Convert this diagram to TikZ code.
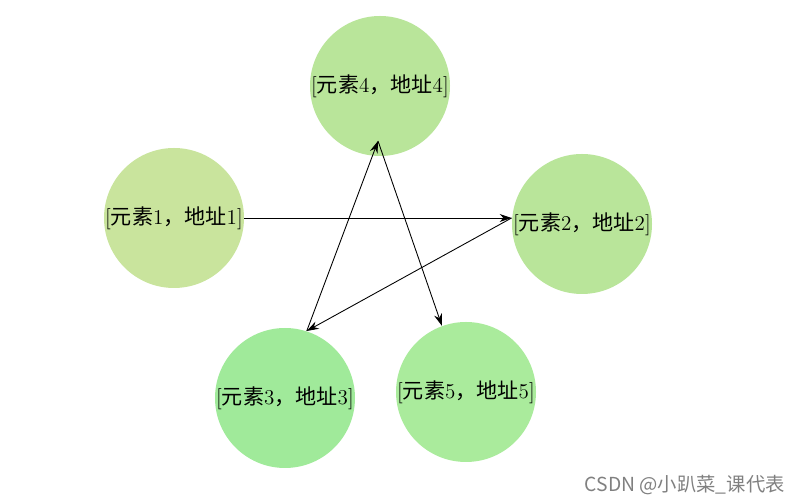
\documentclass[tikz,border=0pt]{standalone}
\usepackage{fontspec}
\usetikzlibrary{arrows.meta}
\newfontfamily\cjk{Noto Sans CJK SC}
\definecolor{ca}{HTML}{C9E49D}
\definecolor{cb}{HTML}{B9E59A}
\definecolor{cc}{HTML}{A0EA9A}
\definecolor{cd}{HTML}{AAEB9C}
\newcommand{\cell}[1]{[{\cjk 元素}#1{\cjk ，地址}#1]}
\tikzset{
elem/.style={
  circle,inner sep=0pt,minimum size=2.8cm,
  font=\fontsize{12}{14}\selectfont}}
\begin{document}
\begin{tikzpicture}[>={Stealth[length=2.4mm,width=1.6mm]},line width=0.5pt]
\useasboundingbox (0,0) rectangle (16.02,10.08);
\node[elem,fill=ca] (n1) at (3.48,5.72) {\cell{1}};
\node[elem,fill=cb] (n4) at (7.60,8.36) {\cell{4}};
\node[elem,fill=cb] (n2) at (11.64,5.60) {\cell{2}};
\node[elem,fill=cc] (n3) at (5.70,2.12) {\cell{3}};
\node[elem,fill=cd] (n5) at (9.32,2.24) {\cell{5}};
\coordinate (w2) at (n1.east -| n2.west);
\coordinate (apex) at (7.56,7.26);
\draw[->] (n1.east) -- (w2);
\draw[->] (w2) -- (n3.72);
\draw[->] (n3.72) -- (apex);
\draw[->] (apex) -- (n5.110);
% watermark
\node[anchor=east,text=gray,font=\cjk\fontsize{11}{13}\selectfont] (wm) at (15.82,0.38) {CSDN @小趴菜\_课代表};
\end{tikzpicture}
\end{document}
